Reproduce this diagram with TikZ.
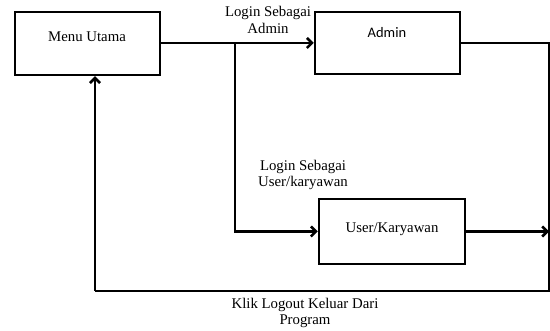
\documentclass[tikz,border=0pt]{standalone}
\usepackage{fontspec}
\setmainfont{Liberation Serif}
\newfontfamily\boxsans{Carlito}
\usetikzlibrary{arrows.meta}
\tikzset{
  flowbox/.style={draw, line width=2.5pt, minimum width=#1, inner sep=0pt},
  wire/.style={line width=2.5pt},
  flowarrow/.style={wire, -{Straight Barb[length=5pt,width=10pt,line width=2.5pt]}},
  caption/.style={font=\fontsize{14.8}{16.5}\selectfont, align=center, inner sep=0pt},
}
\begin{document}
\begin{tikzpicture}[x=1pt,y=-1pt]
  \useasboundingbox (0,0) rectangle (550,331);
  % boxes
  \node[flowbox=145pt, minimum height=63pt] (menu) at (87.5,43.5) {};
  \node[flowbox=145pt, minimum height=62pt] (admin) at (387.5,43) {};
  \node[flowbox=146pt, minimum height=65pt] (user) at (392,231.5) {};
  % box texts
  \node[caption] (menutxt) at (87,37) {Menu Utama};
  \node[caption, font=\boxsans\fontsize{14.5}{16}\selectfont] (admintxt) at (387,33) {Admin};
  \node[caption] (usertxt) at (392,229) {User/Karyawan};
  % routing points
  \coordinate (split) at (235,43);
  \coordinate (down) at (235,231.5);
  \coordinate (tr) at (549,43);
  \coordinate (ur) at (549,231.5);
  \coordinate (br) at (549,291);
  \coordinate (bl) at (95,291);
  % connectors
  \draw[flowarrow] (menu.east |- split) -- (admin.west |- split);
  \draw[flowarrow] (split) -- (down) -- (user.west);
  \draw[wire] (admin.east |- tr) -- (tr) -- (br) -- (bl);
  \draw[flowarrow] (bl) -- (bl |- menu.south);
  \draw[flowarrow] (user.east) -- (ur);
  % labels
  \node[caption] (lbladmin) at (268,20) {Login Sebagai\\Admin};
  \node[caption] (lbluser) at (303,175) {Login Sebagai\\User/karyawan};
  \node[caption] (lbllogout) at (305,313) {Klik Logout Keluar Dari\\Program};
\end{tikzpicture}
\end{document}
